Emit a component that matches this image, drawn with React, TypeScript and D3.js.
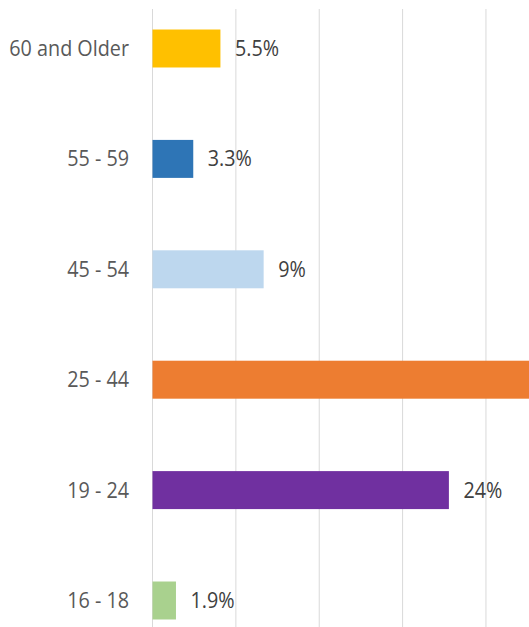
import React from "react";
import * as d3 from "d3";

const categories = ["60 and Older", "55 - 59", "45 - 54", "25 - 44", "19 - 24", "16 - 18"];
const values = [5.5, 3.3, 9, 56.3, 24, 1.9];
const valueLabels = ["5.5%", "3.3%", "9%", "", "24%", "1.9%"];
const colors = ["#FFC000", "#2E75B6", "#BDD7EE", "#ED7D31", "#7030A0", "#A9D18E"];
const gridValues = [0, 6.75, 13.5, 20.25, 27];

const W = 529;
const H = 627;
const SX = 0.92;

export default function App() {
  const x = d3.scaleLinear().domain([0, 30]).range([152, 522.5]);
  const y = d3
    .scaleBand<string>()
    .domain(categories)
    .range([-6.7, 655.7])
    .paddingInner(0.656)
    .paddingOuter(0.328);
  const font = "'Open Sans', sans-serif";
  return (
    <svg
      width={W}
      height={H}
      style={{ position: "absolute", left: 0, top: 0, background: "#fff" }}
    >
      {gridValues.map((g, i) => (
        <line
          key={i}
          x1={x(g) + 0.5}
          x2={x(g) + 0.5}
          y1={9}
          y2={H}
          stroke="#d9d9d9"
          strokeWidth={1}
        />
      ))}
      {categories.map((c, i) => {
        const yy = y(c)!;
        const bw = y.bandwidth();
        return (
          <g key={c}>
            <rect
              x={x(0) + 0.5}
              y={yy}
              width={Math.min(x(values[i]), W + 10) - x(0)}
              height={bw}
              fill={colors[i]}
            />
            <g transform={`translate(129,${yy + bw / 2}) scale(${SX},1)`}>
              <text
                dy="0.35em"
                textAnchor="end"
                fontFamily={font}
                fontSize={21.5}
                fill="#595959"
              >
                {c}
              </text>
            </g>
            {valueLabels[i] && (
              <g transform={`translate(${x(values[i]) + 15},${yy + bw / 2}) scale(${SX},1)`}>
                <text
                  dy="0.35em"
                  textAnchor="start"
                  fontFamily={font}
                  fontSize={21.5}
                  fill="#404040"
                >
                  {valueLabels[i]}
                </text>
              </g>
            )}
          </g>
        );
      })}
    </svg>
  );
}
